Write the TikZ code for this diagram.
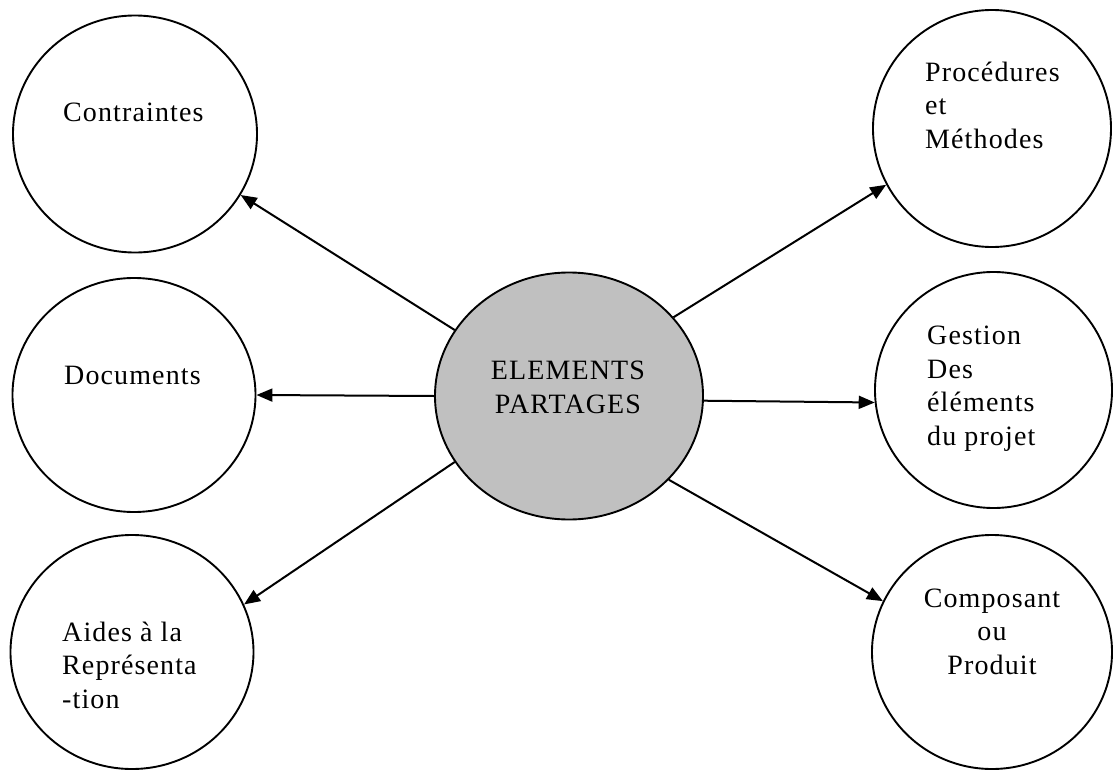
\documentclass[tikz,border=0pt]{standalone}
\usepackage{fontspec}
\setmainfont{Liberation Serif}[LetterSpace=4]
\usetikzlibrary{shapes.geometric,arrows.meta}
\definecolor{coregray}{RGB}{192,192,192}

\begin{document}
\begin{tikzpicture}[x=1pt,y=-1pt,
  bubble/.style={draw=black, line width=1.9pt, ellipse, inner sep=0pt, fill=white},
  txt/.style={font=\fontsize{28}{33.5}\selectfont, inner sep=0pt, align=left},
  link/.style={line width=2pt, -{Triangle[length=16pt,width=13pt]}}
]
\useasboundingbox (0,0) rectangle (1114,771);

% surrounding bubbles
\node[bubble, minimum width=244pt, minimum height=237pt] (contr) at (135,134) {};
\node[bubble, minimum width=243pt, minimum height=234pt] (docs) at (134,395) {};
\node[bubble, minimum width=243pt, minimum height=234pt] (aides) at (132,652) {};
\node[bubble, minimum width=238pt, minimum height=237pt] (proc) at (992,128.5) {};
\node[bubble, minimum width=237pt, minimum height=236pt] (gest) at (993.5,390) {};
\node[bubble, minimum width=240pt, minimum height=234pt] (comp) at (992,652) {};

% central bubble
\node[bubble, fill=coregray, minimum width=268pt, minimum height=247pt] (core) at (569,396) {};

% connectors
\draw[link] (core.150) -- (contr.-30);
\draw[link] (core.180) -- (docs.0);
\draw[link] (core.210) -- (aides.23);
\draw[link] (core.37) -- (proc.208);
\draw[link] (core.-2) -- (gest.186);
\draw[link] (core.-40) -- (comp.155);

% texts (multi-line nodes are placed by the baseline of their last line)
\node[txt, anchor=base west] (tcontr) at (63,121) {Contraintes};
\node[txt, anchor=base west] (tdocs) at (64,384) {Documents};
\node[txt, anchor=base west] (taides) at (62,708) {Aides à la\\Représenta\\-tion};
\node[txt, anchor=base west] (tproc) at (925,148) {Procédures\\et\\Méthodes};
\node[txt, anchor=base west] (tgest) at (927,445) {Gestion\\Des\\éléments\\du projet};
\node[txt, align=center, anchor=base] (tcomp) at (992,674) {Composant\\ou\\Produit};
\node[txt, align=center, anchor=base] (tcore) at (568,413) {ELEMENTS\\PARTAGES};
\end{tikzpicture}
\end{document}
